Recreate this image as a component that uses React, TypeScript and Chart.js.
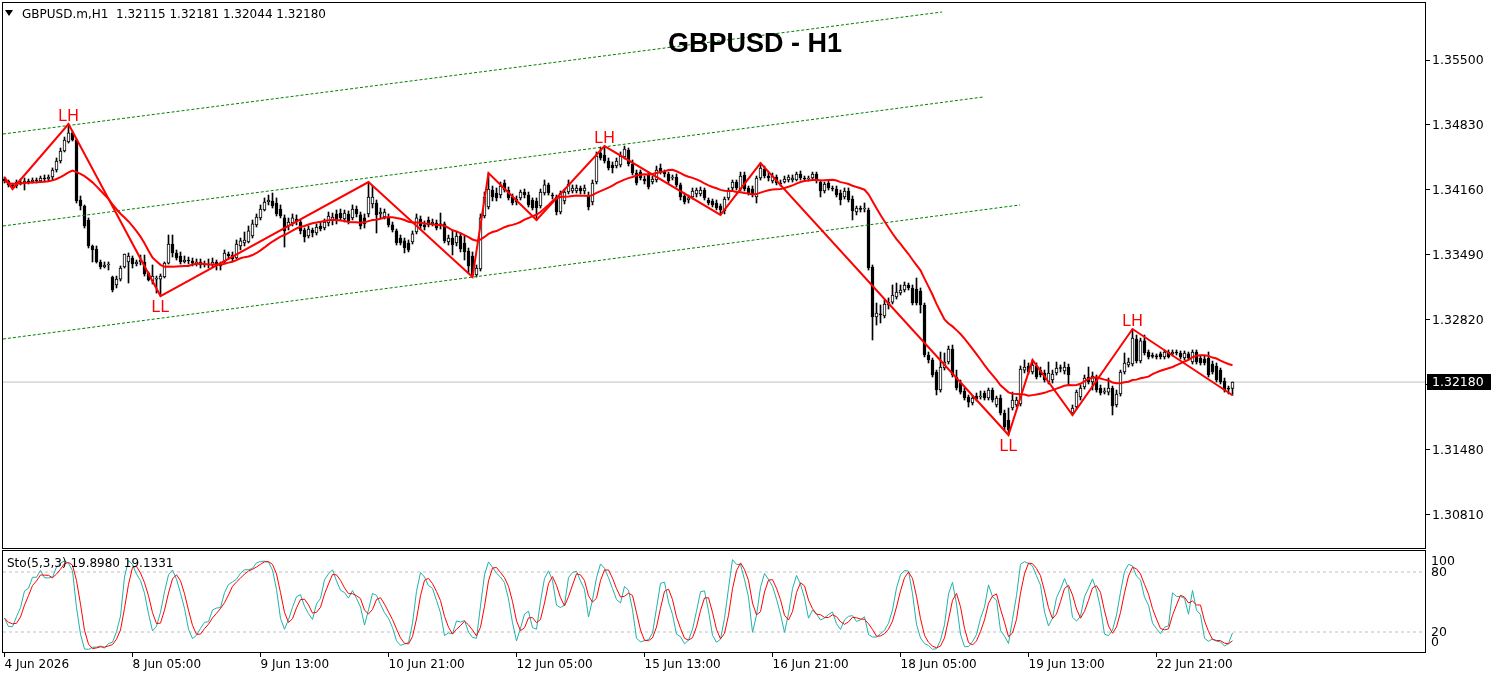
import React, { useEffect, useRef } from "react";
import { Chart, registerables } from "chart.js";

Chart.register(...registerables);
Chart.defaults.font.family = "'DejaVu Sans', sans-serif";

// prices are stored as 1e-5 units above PRICE_BASE (e.g. 4253 -> 1.34253)
const PRICE_BASE = 1.3;
const PRICE_UNIT = 0.00001;

const openPts = [
  4273, 4253, 4212, 4201, 4242, 4232, 4253, 4242, 4263, 4253,
  4284, 4273, 4294, 4366, 4459, 4562, 4655, 4748, 4675, 4057,
  3995, 3851, 3583, 3552, 3418, 3366, 3387, 3263, 3181, 3242,
  3366, 3418, 3459, 3397, 3418, 3418, 3304, 3222, 3242, 3242,
  3263, 3407, 3603, 3511, 3480, 3418, 3438, 3428, 3407, 3418,
  3387, 3397, 3387, 3418, 3387, 3418, 3500, 3490, 3459, 3583,
  3614, 3624, 3686, 3800, 3872, 3954, 4036, 4047, 4026, 3964,
  3872, 3789, 3820, 3861, 3830, 3748, 3686, 3748, 3717, 3789,
  3768, 3820, 3841, 3913, 3923, 3861, 3913, 3872, 3964, 3903,
  3872, 3913, 4016, 4026, 3913, 3882, 3882, 3800, 3738, 3665,
  3635, 3614, 3624, 3727, 3861, 3800, 3851, 3810, 3820, 3800,
  3810, 3624, 3665, 3614, 3686, 3614, 3531, 3480, 3284, 3346,
  3892, 3985, 4160, 4129, 4108, 4232, 4160, 4088, 4067, 4078,
  4139, 4108, 4057, 4047, 3995, 4129, 4212, 4108, 4088, 3933,
  4047, 4139, 4150, 4150, 4181, 4150, 4108, 4036, 4242, 4541,
  4521, 4459, 4418, 4407, 4418, 4500, 4572, 4428, 4335, 4345,
  4273, 4315, 4242, 4263, 4387, 4345, 4325, 4284, 4294, 4212,
  4098, 4057, 4088, 4119, 4119, 4160, 4057, 4047, 4026, 3995,
  3944, 4078, 4181, 4242, 4170, 4315, 4181, 4170, 4088, 4284,
  4376, 4304, 4253, 4294, 4232, 4242, 4263, 4263, 4263, 4325,
  4284, 4273, 4284, 4325, 4242, 4150, 4232, 4181, 4170, 4129,
  4088, 4150, 4067, 3933, 3964, 3964, 3954, 3366, 2851, 2882,
  2861, 2975, 3005, 3057, 3098, 3129, 3181, 3150, 3139, 3119,
  2975, 2459, 2408, 2284, 2098, 2325, 2387, 2521, 2232, 2170,
  2088, 2026, 1964, 2036, 2026, 2067, 2016, 2098, 1944, 2016,
  1861, 1789, 1913, 1944, 1954, 2304, 2346, 2284, 2346, 2304,
  2274, 2181, 2201, 2274, 2325, 2294, 2335, 1861, 1923, 2026,
  2129, 2232, 2181, 2232, 2119, 2077, 2077, 2119, 1944, 2057,
  2284, 2356, 2366, 2624, 2397, 2604, 2490, 2449, 2449, 2470,
  2439, 2490, 2470, 2490, 2480, 2428, 2470, 2387, 2490, 2428,
  2418, 2428, 2366, 2346, 2304, 2191, 2119, 2115,
];

const highPts = [
  4294, 4263, 4232, 4263, 4273, 4284, 4273, 4284, 4284, 4304,
  4315, 4315, 4387, 4490, 4593, 4706, 4840, 4768, 4686, 4098,
  4006, 3872, 3593, 3583, 3438, 3418, 3418, 3273, 3273, 3377,
  3500, 3511, 3480, 3438, 3490, 3490, 3315, 3387, 3273, 3294,
  3418, 3696, 3696, 3542, 3521, 3480, 3469, 3459, 3449, 3449,
  3428, 3449, 3459, 3438, 3418, 3542, 3521, 3521, 3645, 3665,
  3727, 3789, 3851, 3913, 4006, 4078, 4108, 4129, 4078, 4006,
  3903, 3872, 3913, 3903, 3851, 3768, 3789, 3768, 3810, 3830,
  3861, 3933, 3923, 3954, 3964, 3954, 3944, 4006, 3995, 3933,
  3913, 4242, 4201, 4057, 3974, 3964, 3913, 3830, 3758, 3696,
  3665, 3645, 3738, 3913, 3892, 3841, 3882, 3861, 3851, 3923,
  3830, 3696, 3748, 3727, 3717, 3686, 3562, 3521, 3387, 3913,
  4139, 4335, 4201, 4181, 4242, 4263, 4191, 4119, 4098, 4160,
  4170, 4139, 4078, 4078, 4170, 4263, 4232, 4129, 4108, 4150,
  4170, 4263, 4212, 4212, 4201, 4212, 4139, 4263, 4552, 4603,
  4613, 4490, 4449, 4490, 4552, 4613, 4593, 4469, 4366, 4366,
  4304, 4345, 4304, 4407, 4428, 4366, 4345, 4315, 4325, 4232,
  4129, 4108, 4181, 4181, 4191, 4181, 4078, 4067, 4057, 4016,
  4088, 4181, 4263, 4263, 4345, 4345, 4201, 4201, 4304, 4438,
  4407, 4345, 4335, 4315, 4263, 4304, 4315, 4315, 4345, 4356,
  4304, 4304, 4345, 4345, 4263, 4242, 4253, 4201, 4201, 4160,
  4181, 4181, 4098, 3995, 3995, 4026, 3974, 3387, 2995, 2975,
  3026, 3047, 3181, 3201, 3181, 3212, 3201, 3181, 3253, 3150,
  2995, 2490, 2428, 2304, 2490, 2480, 2552, 2562, 2304, 2201,
  2119, 2047, 2036, 2067, 2088, 2088, 2119, 2119, 2036, 2047,
  1892, 1913, 2077, 2026, 2346, 2408, 2377, 2408, 2377, 2335,
  2304, 2387, 2304, 2387, 2356, 2387, 2366, 1944, 2098, 2150,
  2253, 2335, 2284, 2253, 2150, 2119, 2222, 2139, 2098, 2304,
  2480, 2428, 2727, 2665, 2634, 2665, 2511, 2480, 2470, 2490,
  2511, 2511, 2511, 2511, 2501, 2501, 2490, 2511, 2511, 2449,
  2449, 2490, 2397, 2377, 2325, 2222, 2139, 2181,
];

const lowPts = [
  4232, 4191, 4170, 4181, 4212, 4160, 4222, 4232, 4232, 4242,
  4253, 4253, 4263, 4345, 4438, 4552, 4644, 4665, 4026, 3954,
  3768, 3562, 3418, 3407, 3346, 3356, 3335, 3109, 3150, 3222,
  3356, 3201, 3356, 3377, 3387, 3273, 3222, 3191, 3098, 3067,
  3253, 3397, 3469, 3438, 3397, 3407, 3397, 3377, 3377, 3356,
  3366, 3356, 3366, 3335, 3335, 3407, 3449, 3428, 3449, 3542,
  3583, 3614, 3665, 3779, 3851, 3944, 4006, 3974, 3892, 3872,
  3572, 3748, 3789, 3800, 3707, 3624, 3665, 3676, 3696, 3738,
  3748, 3789, 3800, 3810, 3851, 3830, 3810, 3851, 3882, 3758,
  3768, 3882, 3974, 3717, 3872, 3861, 3779, 3727, 3593, 3593,
  3511, 3521, 3603, 3707, 3758, 3748, 3779, 3789, 3748, 3758,
  3614, 3593, 3490, 3583, 3521, 3438, 3304, 3263, 3263, 3325,
  3872, 3964, 4047, 4047, 4078, 4139, 4057, 4006, 4006, 4057,
  4078, 3985, 3954, 3851, 3974, 4108, 4108, 4067, 3903, 3913,
  4016, 4119, 4129, 4129, 4119, 4119, 3954, 4006, 4222, 4469,
  4438, 4366, 4335, 4387, 4397, 4479, 4407, 4315, 4212, 4263,
  4222, 4170, 4222, 4242, 4325, 4294, 4232, 4263, 4191, 4057,
  4016, 4026, 4067, 4088, 4098, 4057, 4006, 3985, 3954, 3903,
  3913, 4057, 4160, 4160, 4150, 4150, 4108, 4088, 4026, 4263,
  4284, 4253, 4232, 4212, 4201, 4232, 4242, 4242, 4253, 4263,
  4253, 4253, 4263, 4232, 4088, 4129, 4160, 4150, 4088, 4006,
  4067, 4036, 3851, 3903, 3933, 3933, 3335, 2614, 2768, 2789,
  2841, 2933, 2985, 3036, 3078, 3109, 3129, 2975, 2975, 2892,
  2439, 2377, 2232, 2047, 2077, 2304, 2366, 2232, 2098, 2057,
  1995, 1923, 1944, 1985, 2005, 1995, 1995, 1974, 1923, 1841,
  1686, 1635, 1892, 1923, 1933, 2274, 2263, 2263, 2212, 2232,
  2181, 2160, 2170, 2253, 2284, 2263, 2150, 1841, 1902, 1995,
  2108, 2160, 2098, 2077, 2047, 2057, 2047, 1841, 1923, 2036,
  2263, 2335, 2346, 2377, 2377, 2459, 2418, 2428, 2418, 2418,
  2418, 2428, 2449, 2459, 2418, 2408, 2408, 2366, 2366, 2356,
  2356, 2232, 2263, 2181, 2160, 2077, 2057, 2044,
];

const closePts = [
  4253, 4212, 4201, 4242, 4232, 4253, 4242, 4263, 4253, 4284,
  4273, 4294, 4366, 4459, 4562, 4675, 4748, 4675, 4047, 3995,
  3789, 3583, 3542, 3418, 3366, 3387, 3397, 3129, 3242, 3356,
  3500, 3480, 3397, 3418, 3438, 3294, 3232, 3273, 3253, 3273,
  3407, 3603, 3511, 3459, 3418, 3438, 3428, 3407, 3418, 3387,
  3397, 3387, 3418, 3387, 3377, 3511, 3480, 3449, 3603, 3635,
  3645, 3738, 3810, 3882, 3964, 4036, 4057, 3995, 3913, 3892,
  3738, 3830, 3872, 3841, 3738, 3676, 3758, 3717, 3779, 3758,
  3830, 3892, 3882, 3841, 3872, 3923, 3841, 3964, 3913, 3789,
  3810, 4088, 4088, 3903, 3933, 3933, 3800, 3748, 3614, 3614,
  3562, 3542, 3707, 3872, 3789, 3779, 3800, 3830, 3768, 3810,
  3635, 3665, 3593, 3686, 3552, 3521, 3377, 3284, 3356, 3872,
  4088, 4170, 4088, 4078, 4201, 4160, 4078, 4026, 4036, 4139,
  4108, 4006, 3974, 3974, 4139, 4212, 4129, 4098, 3933, 4129,
  4139, 4222, 4181, 4181, 4150, 4181, 3985, 4232, 4510, 4490,
  4459, 4387, 4387, 4459, 4510, 4583, 4428, 4335, 4232, 4284,
  4253, 4191, 4273, 4366, 4345, 4325, 4253, 4294, 4212, 4088,
  4036, 4078, 4150, 4160, 4160, 4078, 4026, 4006, 3974, 3954,
  4067, 4160, 4242, 4181, 4304, 4170, 4129, 4108, 4284, 4387,
  4304, 4284, 4304, 4232, 4222, 4273, 4294, 4284, 4325, 4284,
  4273, 4278, 4325, 4253, 4150, 4222, 4181, 4170, 4108, 4057,
  4150, 4057, 3944, 3974, 3960, 3968, 3356, 2851, 2892, 2872,
  2985, 3005, 3078, 3109, 3129, 3181, 3150, 2995, 2995, 2975,
  2459, 2408, 2253, 2098, 2335, 2387, 2521, 2253, 2119, 2077,
  2016, 1974, 2016, 2005, 2036, 2016, 2098, 1995, 2016, 1861,
  1717, 1686, 1995, 1995, 2315, 2335, 2284, 2356, 2232, 2253,
  2201, 2274, 2263, 2325, 2320, 2335, 2253, 1913, 2077, 2119,
  2222, 2181, 2243, 2098, 2067, 2088, 2119, 1933, 2057, 2284,
  2377, 2387, 2634, 2397, 2604, 2480, 2439, 2445, 2439, 2439,
  2490, 2439, 2490, 2480, 2439, 2480, 2428, 2490, 2387, 2377,
  2377, 2253, 2284, 2201, 2181, 2098, 2108, 2180,
];

// ZigZag pivots (bar index, price)
const zigzagIdx = [0, 2, 16, 39, 91, 117, 121, 133, 150, 179, 189, 251, 257, 267, 282, 307];
const zigzagPts = [4294, 4170, 4840, 3067, 4242, 3263, 4335, 3851, 4613, 3903, 4438, 1635, 2408, 1841, 2727, 2044];

// swing labels
const swingIdx = [16, 39, 150, 251, 282];
const swingText = ["LH", "LL", "LH", "LL", "LH"];

// channel (dotted green) lines: start / end
const channelStartIdx = [-0.375, -0.375, -0.375];
const channelStartPts = [4737, 3789, 2624];
const channelEndIdx = [234.4, 244.6, 253.9];
const channelEndPts = [5995, 5118, 4006];

// time axis
const timeTickIdx = [0, 32, 64, 96, 128, 160, 192, 224, 256, 288];
const timeTickLabels = [
  "4 Jun 2026", "8 Jun 05:00", "9 Jun 13:00", "10 Jun 21:00", "12 Jun 05:00",
  "15 Jun 13:00", "16 Jun 21:00", "18 Jun 05:00", "19 Jun 13:00", "22 Jun 21:00",
];

// price axis
const priceTicks = [1.3081, 1.3148, 1.3215, 1.3282, 1.3349, 1.3416, 1.3483, 1.355];
const lastPrice = 1.3218;
const priceMin = 1.304697;
const priceMax = 1.3608756;

const stochLevels = [80, 20];
const stochAxisValues = [100, 80, 20, 0];

const MA_PERIOD = 20;
const K_PERIOD = 5;
const SLOWING = 3;
const D_PERIOD = 3;

const X_MIN = -0.375;
const X_MAX = 355.125;

const toPrice = (v: number) => +(PRICE_BASE + v * PRICE_UNIT).toFixed(5);

function sma(values: number[], period: number): number[] {
  return values.map((_, i) => {
    const s = Math.max(0, i - period + 1);
    let sum = 0;
    for (let j = s; j <= i; j++) sum += values[j];
    return sum / (i - s + 1);
  });
}

function stochastic(h: number[], l: number[], c: number[]) {
  const num: number[] = [];
  const den: number[] = [];
  for (let i = 0; i < c.length; i++) {
    let hi = -Infinity;
    let lo = Infinity;
    for (let j = Math.max(0, i - K_PERIOD + 1); j <= i; j++) {
      hi = Math.max(hi, h[j]);
      lo = Math.min(lo, l[j]);
    }
    num.push(c[i] - lo);
    den.push(hi - lo);
  }
  const k = num.map((_, i) => {
    let a = 0;
    let b = 0;
    for (let j = Math.max(0, i - SLOWING + 1); j <= i; j++) {
      a += num[j];
      b += den[j];
    }
    return b === 0 ? 50 : (a / b) * 100;
  });
  const d = sma(k, D_PERIOD);
  return { k, d };
}

const noPad = (s: any) => {
  s.paddingTop = 0;
  s.paddingBottom = 0;
  s.paddingLeft = 0;
  s.paddingRight = 0;
};

export default function App() {
  const mainRef = useRef<HTMLCanvasElement>(null);
  const stoRef = useRef<HTMLCanvasElement>(null);

  useEffect(() => {
    const O = openPts.map(toPrice);
    const H = highPts.map(toPrice);
    const L = lowPts.map(toPrice);
    const C = closePts.map(toPrice);
    const idx = C.map((_, i) => i);
    const ma = sma(C, MA_PERIOD);
    const { k, d } = stochastic(H, L, C);

    const axisFont = { family: "'DejaVu Sans', sans-serif", size: 12.5 };

    const framePlugin = {
      id: "frame",
      afterDraw(chart: any) {
        const { ctx, chartArea: a } = chart;
        ctx.save();
        ctx.strokeStyle = "#000";
        ctx.lineWidth = 1;
        ctx.strokeRect(a.left - 0.5, a.top - 0.5, a.right - a.left + 1, a.bottom - a.top + 1);
        ctx.restore();
      },
    };

    const mainDecor = {
      id: "mainDecor",
      afterDraw(chart: any) {
        const { ctx, chartArea: a } = chart;
        const xs = chart.scales.x;
        const ys = chart.scales.y;
        ctx.save();
        ctx.font = "16px 'Liberation Sans', Arial, sans-serif";
        ctx.fillStyle = "#ff0000";
        ctx.textAlign = "center";
        swingIdx.forEach((i, n) => {
          const t = swingText[n];
          const x = xs.getPixelForValue(i);
          if (t === "LH") {
            ctx.textBaseline = "alphabetic";
            ctx.fillText(t, x, ys.getPixelForValue(H[i]) - 3);
          } else {
            ctx.textBaseline = "top";
            ctx.fillText(t, x, ys.getPixelForValue(L[i]) + 4);
          }
        });
        const py = Math.round(ys.getPixelForValue(lastPrice));
        ctx.fillStyle = "#000";
        ctx.fillRect(a.right + 2, py - 8, 64, 16);
        ctx.fillStyle = "#fff";
        ctx.font = "12.5px 'DejaVu Sans', sans-serif";
        ctx.textAlign = "left";
        ctx.textBaseline = "middle";
        ctx.fillText(lastPrice.toFixed(5), a.right + 7, py + 1);
        ctx.restore();
      },
    };

    const stoDecor = {
      id: "stoDecor",
      afterDraw(chart: any) {
        const { ctx, chartArea: a } = chart;
        const ys = chart.scales.y;
        ctx.save();
        ctx.fillStyle = "#000";
        ctx.font = "12.5px 'DejaVu Sans', sans-serif";
        ctx.textAlign = "left";
        ctx.textBaseline = "middle";
        stochAxisValues.forEach((v) => {
          let y = ys.getPixelForValue(v) + 1;
          y = Math.max(a.top + 11, Math.min(a.bottom - 9, y));
          ctx.fillText(String(v), a.right + 6, y);
        });
        ctx.restore();
      },
    };

    const lineDs = (data: any[], color: string, width: number, order: number, dash?: number[]) => ({
      type: "line" as const,
      data,
      borderColor: color,
      borderWidth: width,
      borderDash: dash || [],
      pointRadius: 0,
      tension: 0,
      fill: false,
      order,
    });

    const channelDs = channelStartIdx.map((s, n) =>
      lineDs(
        [
          { x: s, y: toPrice(channelStartPts[n]) },
          { x: channelEndIdx[n], y: toPrice(channelEndPts[n]) },
        ],
        "#008000",
        1,
        4,
        [3, 2]
      )
    );

    const main = new Chart(mainRef.current as HTMLCanvasElement, {
      type: "bar",
      data: {
        datasets: [
          lineDs([{ x: X_MIN, y: lastPrice }, { x: X_MAX, y: lastPrice }], "#c0c0c0", 1, 9),
          {
            type: "bar",
            data: idx.map((i) => ({ x: i, y: [L[i], H[i]] })),
            backgroundColor: "#000",
            borderWidth: 0,
            barThickness: 1,
            grouped: false,
            minBarLength: 1,
            order: 7,
          } as any,
          {
            type: "bar",
            data: idx.map((i) => ({ x: i, y: [O[i], C[i]] })),
            backgroundColor: idx.map((i) => (C[i] >= O[i] ? "#ffffff" : "#000000")),
            borderColor: "#000",
            borderWidth: 1,
            borderSkipped: false,
            barThickness: 3,
            grouped: false,
            minBarLength: 1,
            order: 6,
          } as any,
          ...channelDs,
          lineDs(idx.map((i) => ({ x: i, y: ma[i] })), "#ff0000", 2, 2),
          lineDs(zigzagIdx.map((i, n) => ({ x: i, y: toPrice(zigzagPts[n]) })), "#ff0000", 2, 1),
        ] as any,
      },
      options: {
        responsive: false,
        animation: false,
        events: [],
        layout: { padding: { left: 3, top: 3, bottom: 3, right: 0 } },
        plugins: { legend: { display: false }, tooltip: { enabled: false } },
        scales: {
          x: { type: "linear", min: X_MIN, max: X_MAX, offset: false, display: false },
          y: {
            type: "linear",
            position: "right",
            min: priceMin,
            max: priceMax,
            afterBuildTicks: (s: any) => {
              s.ticks = priceTicks.map((v) => ({ value: v }));
            },
            afterFit: (s: any) => {
              s.width = 74;
              noPad(s);
            },
            grid: { drawOnChartArea: false, drawTicks: true, tickLength: 5, color: "#000" },
            border: { display: false },
            ticks: {
              padding: 2,
              labelOffset: 1,
              color: "#000",
              font: axisFont,
              callback: (v: any) => Number(v).toFixed(5),
            },
          },
        },
      } as any,
      plugins: [framePlugin, mainDecor],
    });

    const sto = new Chart(stoRef.current as HTMLCanvasElement, {
      type: "line",
      data: {
        datasets: [
          ...stochLevels.map((lv) =>
            lineDs([{ x: X_MIN, y: lv }, { x: X_MAX, y: lv }], "#c0c0c0", 1, 5, [3, 3])
          ),
          lineDs(idx.map((i) => ({ x: i, y: k[i] })), "#20b2aa", 1, 2),
          lineDs(idx.map((i) => ({ x: i, y: d[i] })), "#ff0000", 1, 1),
        ] as any,
      },
      options: {
        responsive: false,
        animation: false,
        events: [],
        layout: { padding: { left: 3, top: 11, bottom: 0, right: 0 } },
        plugins: { legend: { display: false }, tooltip: { enabled: false } },
        scales: {
          x: {
            type: "linear",
            min: X_MIN,
            max: X_MAX,
            offset: false,
            afterBuildTicks: (s: any) => {
              s.ticks = timeTickIdx.map((v) => ({ value: v }));
            },
            afterFit: (s: any) => {
              s.height = 27;
              noPad(s);
            },
            grid: { drawOnChartArea: false, drawTicks: true, tickLength: 5, color: "#000" },
            border: { display: false },
            ticks: {
              align: "start",
              padding: 1,
              maxRotation: 0,
              autoSkip: false,
              color: "#000",
              font: { family: "'DejaVu Sans', sans-serif", size: 12 },
              callback: (v: any) => {
                const n = timeTickIdx.indexOf(Number(v));
                return n >= 0 ? timeTickLabels[n] : "";
              },
            },
          },
          y: {
            type: "linear",
            position: "right",
            min: 0,
            max: 101,
            afterFit: (s: any) => {
              s.width = 74;
              noPad(s);
            },
            ticks: { display: false },
            grid: { display: false },
            border: { display: false },
          },
        },
      } as any,
      plugins: [framePlugin, stoDecor],
    });

    return () => {
      main.destroy();
      sto.destroy();
    };
  }, []);

  const textStyle: React.CSSProperties = {
    position: "absolute",
    fontFamily: "'DejaVu Sans', sans-serif",
    fontSize: 12,
    lineHeight: "14px",
    whiteSpace: "pre",
    color: "#000",
  };

  return (
    <div
      style={{
        position: "fixed",
        left: 0,
        top: 0,
        width: 1499,
        height: 679,
        background: "#fff",
        overflow: "hidden",
      }}
    >
      <canvas ref={mainRef} width={1499} height={551} style={{ position: "absolute", left: 0, top: 0 }} />
      <canvas ref={stoRef} width={1499} height={139} style={{ position: "absolute", left: 0, top: 540 }} />
      <div
        style={{
          position: "absolute",
          left: 5,
          top: 10,
          width: 0,
          height: 0,
          borderLeft: "4.5px solid transparent",
          borderRight: "4.5px solid transparent",
          borderTop: "6px solid #000",
        }}
      />
      <div style={{ ...textStyle, left: 22, top: 7 }}>{"GBPUSD.m,H1  1.32115 1.32181 1.32044 1.32180"}</div>
      <div
        style={{
          position: "absolute",
          left: 668,
          top: 30,
          fontFamily: "'Liberation Sans', Arial, sans-serif",
          fontWeight: "bold",
          fontSize: 27,
          lineHeight: "27px",
          whiteSpace: "pre",
          color: "#000",
        }}
      >
        GBPUSD - H1
      </div>
      <div style={{ ...textStyle, left: 7, top: 556 }}>{"Sto(5,3,3) 19.8980 19.1331"}</div>
    </div>
  );
}
